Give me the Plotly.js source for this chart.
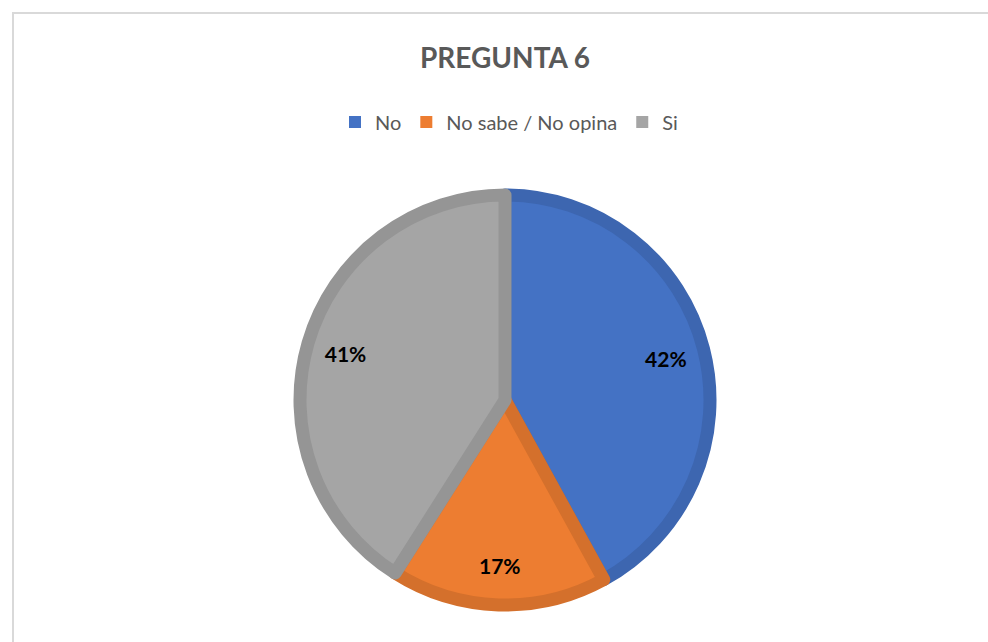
<!DOCTYPE html>
<html>
<head>
<meta charset="utf-8">
<script src="https://cdn.plot.ly/plotly-3.0.1.min.js"></script>
<style>
  html, body { margin: 0; padding: 0; background: #ffffff; }
  #wrap { position: relative; width: 988px; height: 642px; overflow: hidden; }
  #chart { position: absolute; left: 0; top: 0; width: 988px; height: 642px; }
  #frame { position: absolute; left: 12px; top: 12px; width: 1100px; height: 800px;
           border-top: 2px solid #d9d9d9; border-left: 2px solid #d9d9d9; pointer-events: none; }
</style>
</head>
<body>
<div id="wrap">
  <div id="chart"></div>
  <div id="frame"></div>
</div>
<script>
const categories = ["No", "No sabe / No opina", "Si"];
const values = [42, 17, 41];
const fillColors = ["#4472C4", "#ED7D31", "#A5A5A5"];
const edgeColors = ["#3D66B0", "#D4702C", "#959595"];
const chartTitle = "PREGUNTA 6";

const W = 988, H = 642;
const cx = 505, cy = 400, r = 205;
const FONT = "Lato, 'Open Sans', sans-serif";

const dom = (rad) => ({ x: [(cx - rad) / W, (cx + rad) / W], y: [(H - cy - rad) / H, (H - cy + rad) / H] });

// legend carrier: tiny pie hidden beneath the main pie, flat colour squares in the legend
const legendTrace = {
  type: "pie", labels: categories, values: values, sort: false, direction: "clockwise",
  marker: { colors: fillColors, line: { width: 0 } },
  textinfo: "none", hoverinfo: "skip", showlegend: true,
  domain: dom(1)
};

// main pie with darker edges
const mainTrace = {
  type: "pie", labels: categories, values: values, sort: false, direction: "clockwise", rotation: 0,
  marker: { colors: fillColors, line: { color: edgeColors, width: 13 } },
  textinfo: "none", hoverinfo: "label+percent", showlegend: false,
  domain: dom(r)
};

// transparent ring that places the percentage labels near the outer edge
const labelTrace = {
  type: "pie", labels: categories, values: values, sort: false, direction: "clockwise", rotation: 0,
  hole: 0.62,
  marker: { colors: ["rgba(0,0,0,0)", "rgba(0,0,0,0)", "rgba(0,0,0,0)"], line: { width: 0 } },
  texttemplate: "%{percent:.0%}",
  textposition: "inside",
  insidetextorientation: "horizontal",
  insidetextfont: { family: FONT, size: 21, color: "#000000", weight: "bold" },
  hoverinfo: "skip", showlegend: false,
  domain: dom(r)
};

const layout = {
  width: W, height: H,
  margin: { l: 0, r: 0, t: 0, b: 0 },
  paper_bgcolor: "#ffffff",
  title: {
    text: "<b>" + chartTitle + "</b>",
    x: 505 / W, xanchor: "center", xref: "paper",
    y: 1 - 58 / H, yanchor: "middle", yref: "paper",
    font: { family: FONT, size: 28, color: "#595959" }
  },
  showlegend: true,
  legend: {
    orientation: "h",
    x: 509 / W, xanchor: "center",
    y: 1 - 122 / H, yanchor: "middle",
    font: { family: FONT, size: 20, color: "#595959" },
    itemwidth: 30,
    traceorder: "normal"
  }
};

Plotly.newPlot("chart", [legendTrace, mainTrace, labelTrace], layout, { displayModeBar: false, staticPlot: true });
</script>
</body>
</html>
